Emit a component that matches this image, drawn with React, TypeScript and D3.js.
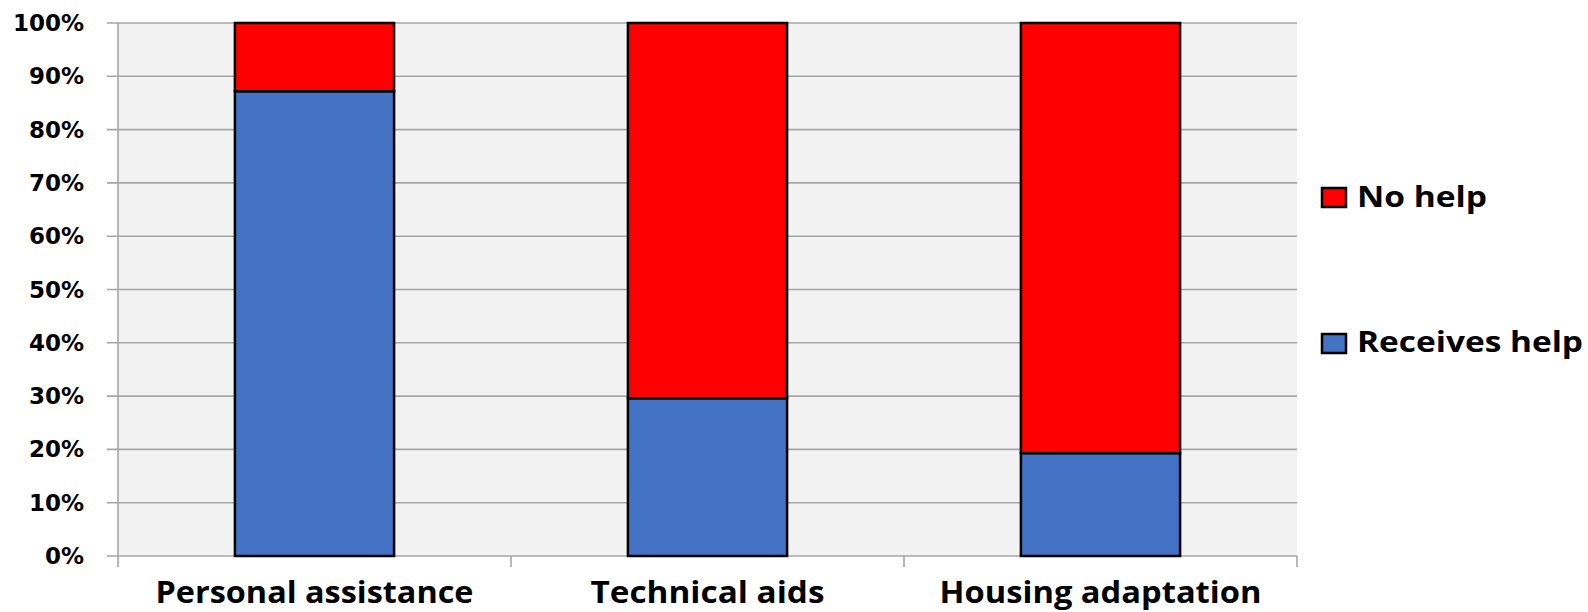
import React from "react";
import * as d3 from "d3";

const categories = ["Personal assistance", "Technical aids", "Housing adaptation"];
const receivesHelp = [87.2, 29.6, 19.3];
const noHelp = [12.8, 70.4, 80.7];
const yTicks = [0, 10, 20, 30, 40, 50, 60, 70, 80, 90, 100];
const seriesNames = ["Receives help", "No help"];
const seriesColors = ["#4472c4", "#ff0000"];
const labelWidths = [318, 234, 322];

const W = 1588;
const H = 612;
const plot = { left: 118, right: 1297, top: 23, bottom: 556 };

export default function App() {
  const x = d3
    .scaleBand<string>()
    .domain(categories)
    .range([plot.left, plot.right])
    .paddingInner(0.595)
    .paddingOuter(0.2975);
  const outer = d3.scaleBand<string>().domain(categories).range([plot.left, plot.right]);
  const y = d3.scaleLinear().domain([0, 100]).range([plot.bottom, plot.top]);

  const rows = categories.map((c, i) => ({
    cat: c,
    "Receives help": receivesHelp[i],
    "No help": noHelp[i],
  }));
  const stacked = d3.stack<any>().keys(seriesNames)(rows);

  const boundaries = [plot.left, ...categories.map((c) => (outer(c) as number) + outer.bandwidth())];

  return (
    <svg
      width={W}
      height={H}
      style={{ position: "absolute", left: 0, top: 0, display: "block", background: "#fff" }}
    >
      <rect
        x={plot.left}
        y={plot.top}
        width={plot.right - plot.left}
        height={plot.bottom - plot.top}
        fill="#f2f2f2"
      />
      {yTicks.map((t) => (
        <line
          key={"g" + t}
          x1={plot.left - 11}
          x2={plot.right}
          y1={y(t)}
          y2={y(t)}
          stroke="#a6a6a6"
          strokeWidth={1.6}
        />
      ))}
      <line x1={plot.left} x2={plot.left} y1={plot.top} y2={plot.bottom + 11} stroke="#a6a6a6" strokeWidth={1.6} />
      {boundaries.slice(1).map((bx, i) => (
        <line key={"b" + i} x1={bx} x2={bx} y1={plot.bottom} y2={plot.bottom + 11} stroke="#a6a6a6" strokeWidth={1.6} />
      ))}
      {yTicks.map((t) => (
        <text
          key={"t" + t}
          x={84}
          y={y(t)}
          textAnchor="end"
          dominantBaseline="central"
          fontFamily="'DejaVu Sans', Verdana, sans-serif"
          fontWeight="bold"
          fontSize={23}
          fill="#000"
        >
          {t + "%"}
        </text>
      ))}
      {stacked.map((s, si) =>
        s.map((d, i) => (
          <rect
            key={si + "-" + i}
            x={x(categories[i])}
            y={y(d[1])}
            width={x.bandwidth()}
            height={y(d[0]) - y(d[1])}
            fill={seriesColors[si]}
            stroke="#000"
            strokeWidth={2.5}
          />
        ))
      )}
      {categories.map((c, i) => (
        <text
          key={"c" + c}
          x={(outer(c) as number) + outer.bandwidth() / 2}
          y={603}
          textAnchor="middle"
          fontFamily="'Open Sans', sans-serif"
          fontWeight="bold"
          fontSize={31}
          textLength={labelWidths[i]}
          lengthAdjust="spacingAndGlyphs"
          fill="#000"
        >
          {c}
        </text>
      ))}
      {/* legend, "No help" listed first */}
      {[
        { name: "No help", color: seriesColors[1], sy: 188, ty: 207, len: 130 },
        { name: "Receives help", color: seriesColors[0], sy: 334, ty: 352, len: 226 },
      ].map((l) => (
        <g key={l.name}>
          <rect x={1322} y={l.sy} width={24} height={19} fill={l.color} stroke="#000" strokeWidth={2.5} />
          <text
            x={1357}
            y={l.ty}
            fontFamily="'Open Sans', sans-serif"
            fontWeight="bold"
            fontSize={29}
            textLength={l.len}
            lengthAdjust="spacingAndGlyphs"
            fill="#000"
          >
            {l.name}
          </text>
        </g>
      ))}
    </svg>
  );
}
